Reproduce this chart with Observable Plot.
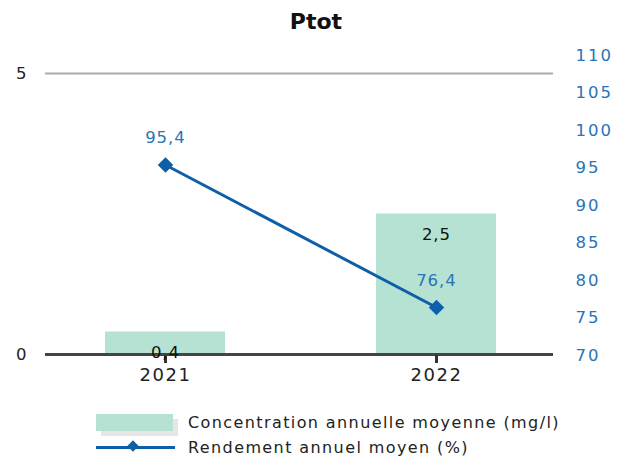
<!DOCTYPE html>
<html>
<head>
<meta charset="utf-8">
<script src="https://cdn.jsdelivr.net/npm/d3@7"></script>
<script src="https://cdn.jsdelivr.net/npm/@observablehq/plot@0.6"></script>
<style>
  html, body { margin: 0; padding: 0; background: #fff; }
  #wrap { position: relative; width: 623px; height: 459px; overflow: hidden; font-family: "DejaVu Sans", sans-serif; }
  #title { position: absolute; top: 9px; left: 0; width: 632px; text-align: center; font-weight: bold; font-size: 22px; color: #111; }
  #chart { position: absolute; top: 0; left: 0; }
  #chart g[aria-label="x-axis tick label"] { letter-spacing: 1.5px; }
  #chart g[aria-label="y-axis tick label"] { letter-spacing: 2px; }
  #chart g.vlabel { letter-spacing: 1px; }
  #legend { position: absolute; left: 96px; top: 411px; font-size: 16px; letter-spacing: 1.4px; color: #222; }
  .row { display: flex; align-items: center; height: 22px; }
  .sw { position: relative; width: 78px; height: 17px; margin-right: 14px; }
  .box { position: absolute; left: 0; top: 0; width: 77px; height: 17px; background: #b5e2d3; box-shadow: 5px 5px 0 #e6e6e6; }
  .ln { position: absolute; left: 0; top: 7px; width: 79px; height: 3px; background: #0f5fa8; }
  .dm { position: absolute; left: 33px; top: 3px; width: 8px; height: 8px; background: #0f5fa8; transform: rotate(45deg); }
</style>
</head>
<body>
<div id="wrap">
  <div id="title">Ptot</div>
  <div id="chart"></div>
  <div id="legend">
    <div class="row"><div class="sw"><div class="box"></div></div><span>Concentration annuelle moyenne (mg/l)</span></div>
    <div class="row" style="margin-top:3px"><div class="sw"><div class="ln"></div><div class="dm"></div></div><span>Rendement annuel moyen (%)</span></div>
  </div>
</div>
<script>
const years = ["2021", "2022"];
const concentration = [0.4, 2.5];
const rendement = [95.4, 76.4];
const leftTicks = [0, 5];
const rightTicks = [70, 75, 80, 85, 90, 95, 100, 105, 110];

const data = years.map((y, i) => ({year: y, conc: concentration[i], rend: rendement[i]}));
const fr = v => d3.format(".1f")(v).replace(".", ",");

// left scale: 0 -> 354px, 5 -> 73px
const yLeft = d3.scaleLinear([0, 5], [354, 73]);
// right scale: 70 -> 355px, 110 -> 55px, expressed in left units
const y2 = d3.scaleLinear([70, 110], [yLeft.invert(355), yLeft.invert(55)]);

const plot = Plot.plot({
  width: 623,
  height: 400,
  marginLeft: 45,
  marginRight: 70,
  marginTop: 55,
  marginBottom: 45,
  style: {fontFamily: "DejaVu Sans, sans-serif", fontSize: "16px", background: "transparent"},
  x: {domain: years, range: [29.5, 571.5], paddingInner: 0.557, paddingOuter: 0.2785, label: null},
  y: {domain: [0, 5], range: [354, 73], label: null},
  marks: [
    Plot.ruleY([5], {stroke: "#ababab", strokeWidth: 2}),
    Plot.barY(data, {x: "year", y: "conc", fill: "#b5e2d3"}),
    Plot.ruleY([0], {stroke: "#444", strokeWidth: 3}),
    Plot.axisX({tickSize: 8, stroke: "#333", strokeWidth: 3, tickPadding: 5, fill: "#222", fontSize: 18}),
    Plot.axisY(leftTicks, {anchor: "left", tickSize: 0, tickPadding: 17, fill: "#222", fontSize: 16.5, label: null, tickFormat: d => String(d)}),
    Plot.axisY(rightTicks.map(v => y2(v)), {anchor: "right", tickSize: 0, tickPadding: 22, fill: "#2a74b8", fontSize: 16.5, label: null,
      tickFormat: d => String(Math.round(y2.invert(d)))}),
    Plot.text(data, {x: "year", y: "conc", text: d => fr(d.conc), dy: 21, fill: "#111", fontSize: 16.5, className: "vlabel"}),
    Plot.line(data, {x: "year", y: d => y2(d.rend), stroke: "#0f5fa8", strokeWidth: 3}),
    Plot.dot(data, {x: "year", y: d => y2(d.rend), symbol: "diamond2", r: 7, fill: "#0f5fa8", stroke: "none"}),
    Plot.text(data, {x: "year", y: d => y2(d.rend), text: d => fr(d.rend), dy: -27, fill: "#2a74b8", fontSize: 16.5, className: "vlabel"})
  ]
});
document.getElementById("chart").appendChild(plot);
</script>
</body>
</html>
